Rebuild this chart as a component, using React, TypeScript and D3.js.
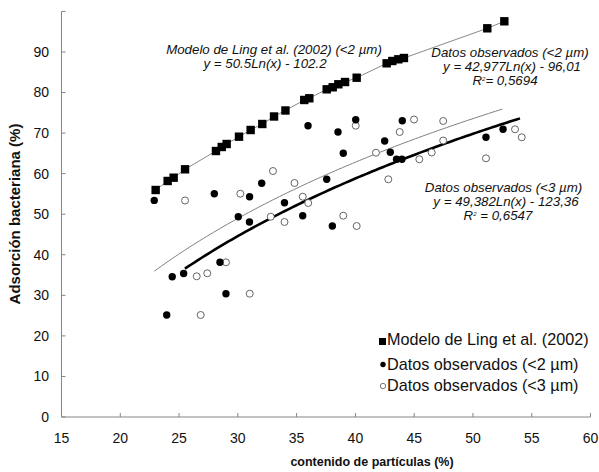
import React from "react";
import * as d3 from "d3";

// Modelo de Ling et al. (2002)
const modelX = [23.01, 24.03, 24.54, 25.51, 28.14, 28.63, 29.05, 30.1, 31.09, 32.08, 33.08, 34.05, 35.65, 36.08, 37.56, 38.07, 38.55, 39.12, 40.11, 42.66, 43.14, 43.65, 44.13, 51.22, 52.67];
const modelY = [55.97, 58.19, 59.0, 61.07, 65.58, 66.57, 67.31, 69.11, 70.76, 72.24, 74.09, 75.57, 78.16, 78.58, 80.79, 81.29, 82.03, 82.59, 83.65, 87.2, 87.77, 88.19, 88.51, 95.83, 97.56];

// Datos observados (<2 µm)
const obs2X = [22.89, 24.42, 25.39, 23.95, 28.0, 28.48, 28.99, 30.04, 30.99, 31.0, 32.03, 33.97, 35.52, 35.97, 37.56, 38.04, 38.52, 38.97, 40.03, 42.49, 42.97, 43.5, 43.96, 43.99, 51.11, 52.56];
const obs2Y = [53.4, 34.59, 35.38, 25.15, 55.05, 38.14, 30.4, 49.38, 48.08, 54.31, 57.62, 52.84, 49.63, 71.82, 58.6, 47.09, 70.27, 65.01, 73.3, 68.05, 65.26, 63.54, 63.54, 73.03, 68.96, 70.93];

// Datos observados (<3 µm)
const obs3X = [25.51, 26.5, 27.4, 28.99, 26.84, 31.01, 30.21, 32.99, 32.8, 33.97, 34.82, 35.52, 35.99, 38.97, 40.11, 40.03, 41.75, 42.8, 43.77, 44.99, 45.44, 46.49, 47.47, 47.47, 51.11, 53.58, 54.15];
const obs3Y = [53.38, 34.69, 35.43, 38.14, 25.15, 30.4, 55.05, 60.65, 49.38, 48.08, 57.69, 54.31, 52.76, 49.63, 47.09, 71.82, 65.16, 58.6, 70.27, 73.35, 63.54, 65.21, 72.98, 68.17, 63.78, 70.93, 68.96];

// Trend lines (logarithmic, as drawn): [a, b, xStart, xEnd]
const trend2 = [48.15, -114.8, 22.9, 52.5];
const trend3 = [49.382, -123.36, 25.5, 54.0];

const xTicks = [15, 20, 25, 30, 35, 40, 45, 50, 55, 60];
const yTicks = [0, 10, 20, 30, 40, 50, 60, 70, 80, 90, 100];
const yTickLabels = ["0", "10", "20", "30", "40", "50", "60", "70", "80", "90", ""];

const legendLabels = ["Modelo de Ling et al. (2002)", "Datos observados (<2 µm)", "Datos observados (<3 µm)"];
const noteModel = ["Modelo de Ling et al. (2002) (<2 µm)", "y = 50.5Ln(x) - 102.2"];
const note2 = ["Datos observados (<2 µm)", "y = 42,977Ln(x) - 96,01", "= 0,5694"];
const note3 = ["Datos observados (<3 µm)", "y = 49,382Ln(x) - 123,36", "= 0,6547"];

const FONT = "'Liberation Sans', Arial, Helvetica, sans-serif";

export default function App() {
  const W = 599, H = 472;
  const x = d3.scaleLinear().domain([15, 60]).range([61.5, 590.5]);
  const y = d3.scaleLinear().domain([0, 100]).range([417, 11.4]);

  const trendPath = (t: number[]) => {
    const pts = d3.range(0, 101).map((i) => {
      const xv = t[2] + ((t[3] - t[2]) * i) / 100;
      return [xv, t[0] * Math.log(xv) + t[1]] as [number, number];
    });
    return d3.line<[number, number]>().x((d) => x(d[0])).y((d) => y(d[1]))(pts) || "";
  };

  const modelPts = modelX.map((v, i) => [v, modelY[i]] as [number, number]);
  const modelLine = d3.line<[number, number]>().x((d) => x(d[0])).y((d) => y(d[1]))(modelPts) || "";

  const axisColor = "#858585";
  const textColor = "#111";

  return (
    <svg width={W} height={H} style={{ position: "absolute", left: 0, top: 0, background: "#fff" }} fontFamily={FONT}>
      <rect x={0} y={0} width={W} height={H} fill="#fff" />
      {/* axes */}
      <line x1={x(15)} x2={x(15)} y1={y(0)} y2={y(100)} stroke={axisColor} strokeWidth={1} />
      <line x1={x(15)} x2={x(60)} y1={y(0)} y2={y(0)} stroke={axisColor} strokeWidth={1} />
      {yTicks.map((t, i) => (
        <g key={"yt" + t}>
          <line x1={x(15)} x2={x(15) + 4} y1={y(t)} y2={y(t)} stroke={axisColor} />
          <text x={49} y={y(t)} dy="0.35em" textAnchor="end" fontSize={14} fill={textColor}>{yTickLabels[i]}</text>
        </g>
      ))}
      {xTicks.map((t) => (
        <g key={"xt" + t}>
          <line x1={x(t)} x2={x(t)} y1={y(0)} y2={y(0) - 4} stroke={axisColor} />
          <text x={x(t)} y={438} dy="0.35em" textAnchor="middle" fontSize={14} fill={textColor}>{t}</text>
        </g>
      ))}
      <text x={372} y={462} dy="0.35em" textAnchor="middle" fontSize={12.5} fontWeight="bold" fill={textColor}>contenido de partículas (%)</text>
      <text transform="translate(15,214) rotate(-90)" dy="0.35em" textAnchor="middle" fontSize={15} fontWeight="bold" fill={textColor}>Adsorción bacteriana (%)</text>

      {/* model connecting line */}
      <path d={modelLine} fill="none" stroke="#8a8a8a" strokeWidth={1} />
      {/* trend lines */}
      <path d={trendPath(trend2)} fill="none" stroke="#808080" strokeWidth={1} />
      <path d={trendPath(trend3)} fill="none" stroke="#000" strokeWidth={2.6} />

      {/* points */}
      {obs3X.map((v, i) => (
        <circle key={"o3" + i} cx={x(v)} cy={y(obs3Y[i])} r={3.5} fill="#fff" stroke="#555" strokeWidth={0.9} />
      ))}
      {obs2X.map((v, i) => (
        <circle key={"o2" + i} cx={x(v)} cy={y(obs2Y[i])} r={3.7} fill="#000" />
      ))}
      {modelX.map((v, i) => (
        <rect key={"m" + i} x={x(v) - 4.2} y={y(modelY[i]) - 4.2} width={8.4} height={8.4} fill="#000" />
      ))}

      {/* annotations */}
      <g fontStyle="italic" fontSize={13.3} fill={textColor} textAnchor="middle">
        <text x={274} y={49} dy="0.35em">{noteModel[0]}</text>
        <text x={265} y={63} dy="0.35em">{noteModel[1]}</text>
        <text x={510} y={52.5} dy="0.35em">{note2[0]}</text>
        <text x={512} y={66.5} dy="0.35em">{note2[1]}</text>
        <text x={505} y={80.5} dy="0.35em">
          R<tspan fontSize={6} dy="-4">2</tspan><tspan dy="4">{note2[2]}</tspan>
        </text>
        <text x={503.5} y={187.5} dy="0.35em">{note3[0]}</text>
        <text x={506} y={201} dy="0.35em">{note3[1]}</text>
        <text x={498} y={215} dy="0.35em">
          R<tspan fontSize={6} dy="-4">2</tspan><tspan dy="4">{" " + note3[2]}</tspan>
        </text>
      </g>

      {/* legend */}
      <g fontSize={16.2} fill={textColor}>
        <rect x={379} y={338} width={7} height={7} fill="#000" />
        <text x={387} y={339.5} dy="0.35em">{legendLabels[0]}</text>
        <circle cx={383} cy={364.5} r={2.7} fill="#000" />
        <text x={387} y={364} dy="0.35em">{legendLabels[1]}</text>
        <circle cx={383} cy={386} r={2.7} fill="#fff" stroke="#555" strokeWidth={0.8} />
        <text x={387} y={385.5} dy="0.35em">{legendLabels[2]}</text>
      </g>
    </svg>
  );
}
